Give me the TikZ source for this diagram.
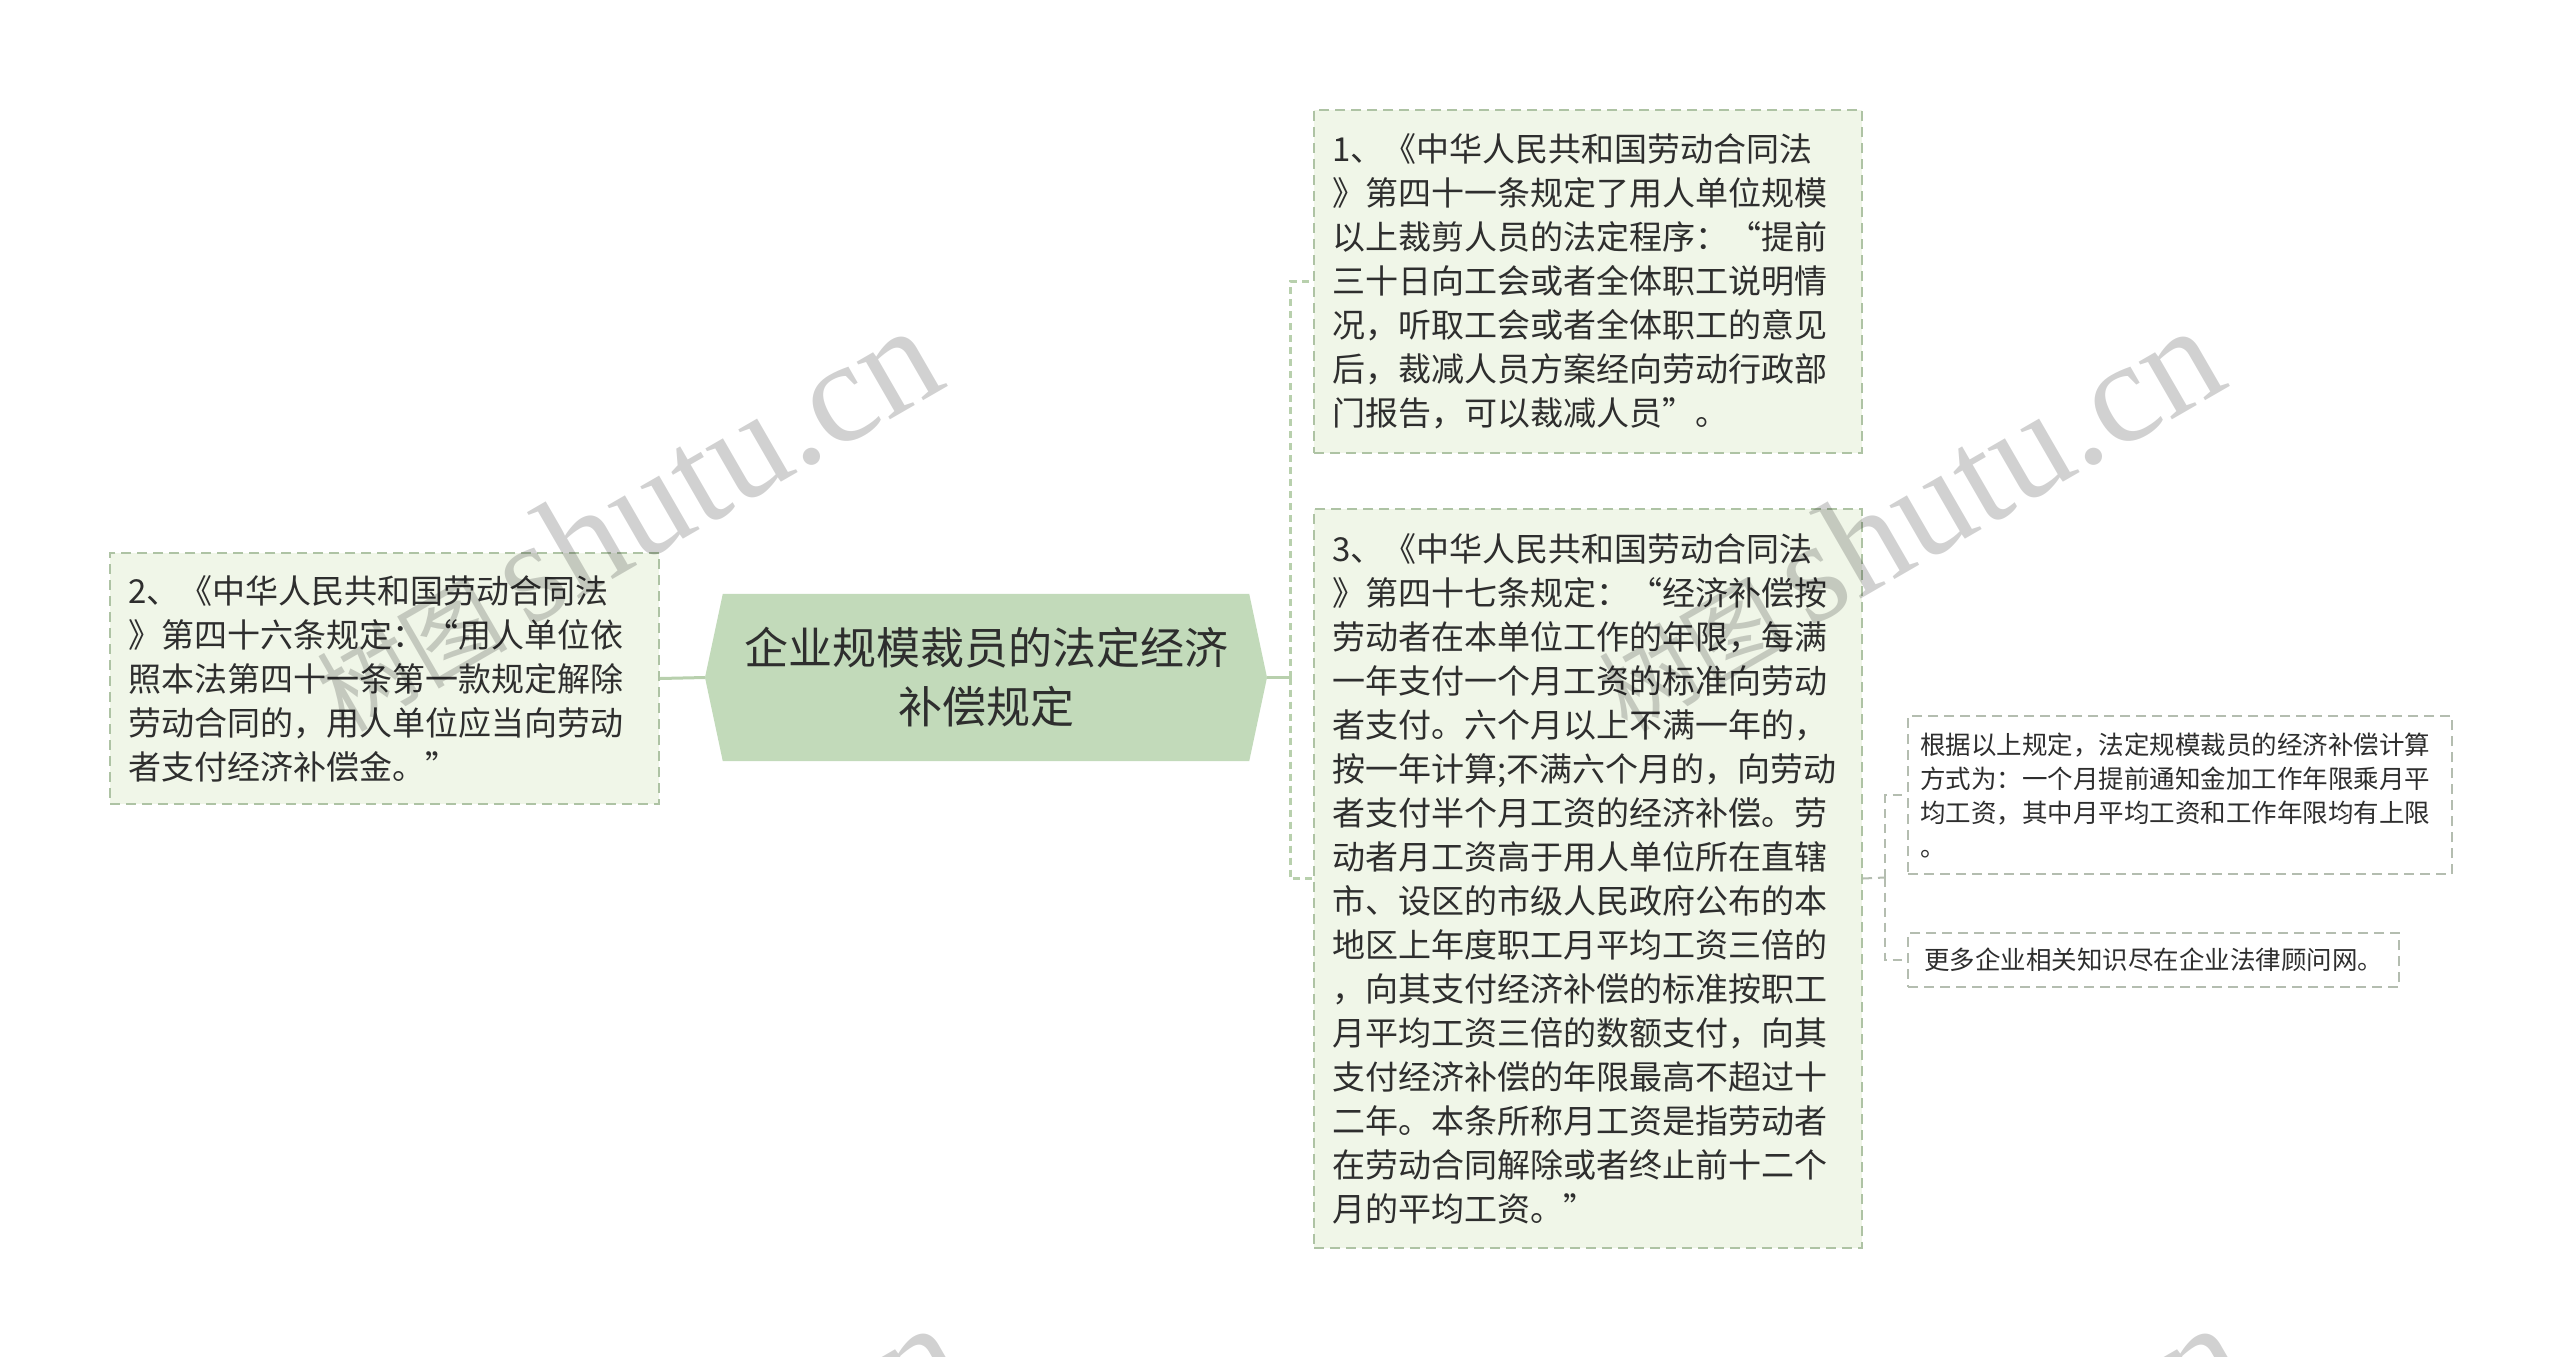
\documentclass[tikz,border=0pt]{standalone}
\usepackage{fontspec}
\setmainfont{Liberation Serif}
\newfontfamily\cjk{Noto Sans CJK SC}
\usetikzlibrary{backgrounds}
\definecolor{boxfill}{HTML}{F0F6E8}
\definecolor{boxline}{HTML}{AEC3A4}
\definecolor{hexfill}{HTML}{C2DABA}
\definecolor{conn}{HTML}{B8D0AD}
\definecolor{gline}{HTML}{B4BDB0}
\definecolor{txt}{HTML}{2E2E2E}
\tikzset{
  bigbox/.style={rectangle, draw=boxline, fill=boxfill, line width=2pt,
    dash pattern=on 10pt off 6pt, anchor=north west, inner xsep=18pt, inner ysep=0pt,
    align=left, text width=512pt, text=txt, font=\cjk\fontsize{33}{44}\selectfont},
  smallbox/.style={rectangle, draw=gline, fill=white, line width=2pt,
    dash pattern=on 10pt off 6pt, anchor=north west, inner xsep=12pt, inner ysep=0pt,
    align=left, text width=520pt, text=txt, font=\cjk\fontsize{25.5}{34}\selectfont},
  rootnode/.style={rectangle, inner sep=0pt, minimum width=526pt, minimum height=167pt,
    align=center, text=txt, font=\cjk\fontsize{44}{59}\selectfont},
  solidconn/.style={draw=conn, line width=3pt},
  dashconn/.style={draw=conn, line width=3pt, dash pattern=on 7pt off 5pt},
  greyconn/.style={draw=gline, line width=2pt, dash pattern=on 9pt off 6pt},
  wm/.style={rotate=30, inner sep=0pt, text=black, text opacity=0.18,
    font=\fontsize{145}{145}\selectfont}
}
\begin{document}
\begin{tikzpicture}[x=1pt, y=-1pt]
\useasboundingbox (0,0) rectangle (2560,1357);

% central topic
\node[rootnode] (root) at (986,677.5) {企业规模裁员的法定经济\\补偿规定};
\coordinate (rootL) at (705,677.5);
\coordinate (rootR) at (1267,677.5);

% left branch
\node[bigbox, minimum height=251pt, text width=513pt] (b2) at (109,552)
{2、《中华人民共和国劳动合同法\\
》第四十六条规定：“用人单位依\\
照本法第四十一条第一款规定解除\\
劳动合同的，用人单位应当向劳动\\
者支付经济补偿金。”};

% right branches
\node[bigbox, minimum height=343pt] (b1) at (1313,109)
{1、《中华人民共和国劳动合同法\\
》第四十一条规定了用人单位规模\\
以上裁剪人员的法定程序：“提前\\
三十日向工会或者全体职工说明情\\
况，听取工会或者全体职工的意见\\
后，裁减人员方案经向劳动行政部\\
门报告，可以裁减人员”。};

\node[bigbox, minimum height=739pt] (b3) at (1313,508)
{3、《中华人民共和国劳动合同法\\
》第四十七条规定：“经济补偿按\\
劳动者在本单位工作的年限，每满\\
一年支付一个月工资的标准向劳动\\
者支付。六个月以上不满一年的，\\
按一年计算;不满六个月的，向劳动\\
者支付半个月工资的经济补偿。劳\\
动者月工资高于用人单位所在直辖\\
市、设区的市级人民政府公布的本\\
地区上年度职工月平均工资三倍的\\
，向其支付经济补偿的标准按职工\\
月平均工资三倍的数额支付，向其\\
支付经济补偿的年限最高不超过十\\
二年。本条所称月工资是指劳动者\\
在劳动合同解除或者终止前十二个\\
月的平均工资。”};

\node[smallbox, minimum height=158pt] (bA) at (1907,715)
{根据以上规定，法定规模裁员的经济补偿计算\\
方式为：一个月提前通知金加工作年限乘月平\\
均工资，其中月平均工资和工作年限均有上限\\
。};

\node[smallbox, minimum height=54pt, text width=459pt, inner xsep=16pt] (bB) at (1907,932)
{更多企业相关知识尽在企业法律顾问网。};

% connectors
\coordinate (j1) at (1290,677.5);
\coordinate (j2) at (1885,877.5);
\draw[solidconn] (rootL) -- (b2.east);
\draw[solidconn] (rootR) -- (j1);
\draw[dashconn] (j1) |- (b1.west);
\draw[dashconn] (j1) |- (b3.west);
\draw[greyconn] (b3.east) -- (j2);
\draw[greyconn] (j2) |- (bA.west);
\draw[greyconn] (j2) |- (bB.west);

% background and hexagon
\begin{scope}[on background layer]
  \fill[white] (0,0) rectangle (2560,1357);
  \fill[hexfill] (rootL) -- (root.north west) -- (root.north east) -- (rootR)
    -- (root.south east) -- (root.south west) -- cycle;
\end{scope}

% watermarks
\begin{scope}
  \clip (0,0) rectangle (2560,1357);
  \node[wm, anchor=base east] (wm1) at (950,385) {{\cjk\fontsize{95}{95}\selectfont 树图}\hspace{20pt}shutu.cn};
  \node[wm, anchor=base east] (wm2) at (2232,385) {{\cjk\fontsize{95}{95}\selectfont 树图}\hspace{20pt}shutu.cn};
  \node[wm, anchor=base east] (wm3) at (972,1382) {{\cjk\fontsize{95}{95}\selectfont 树图}\hspace{20pt}shutu.cn};
  \node[wm, anchor=base east] (wm4) at (2254,1382) {{\cjk\fontsize{95}{95}\selectfont 树图}\hspace{20pt}shutu.cn};
\end{scope}
\end{tikzpicture}
\end{document}
